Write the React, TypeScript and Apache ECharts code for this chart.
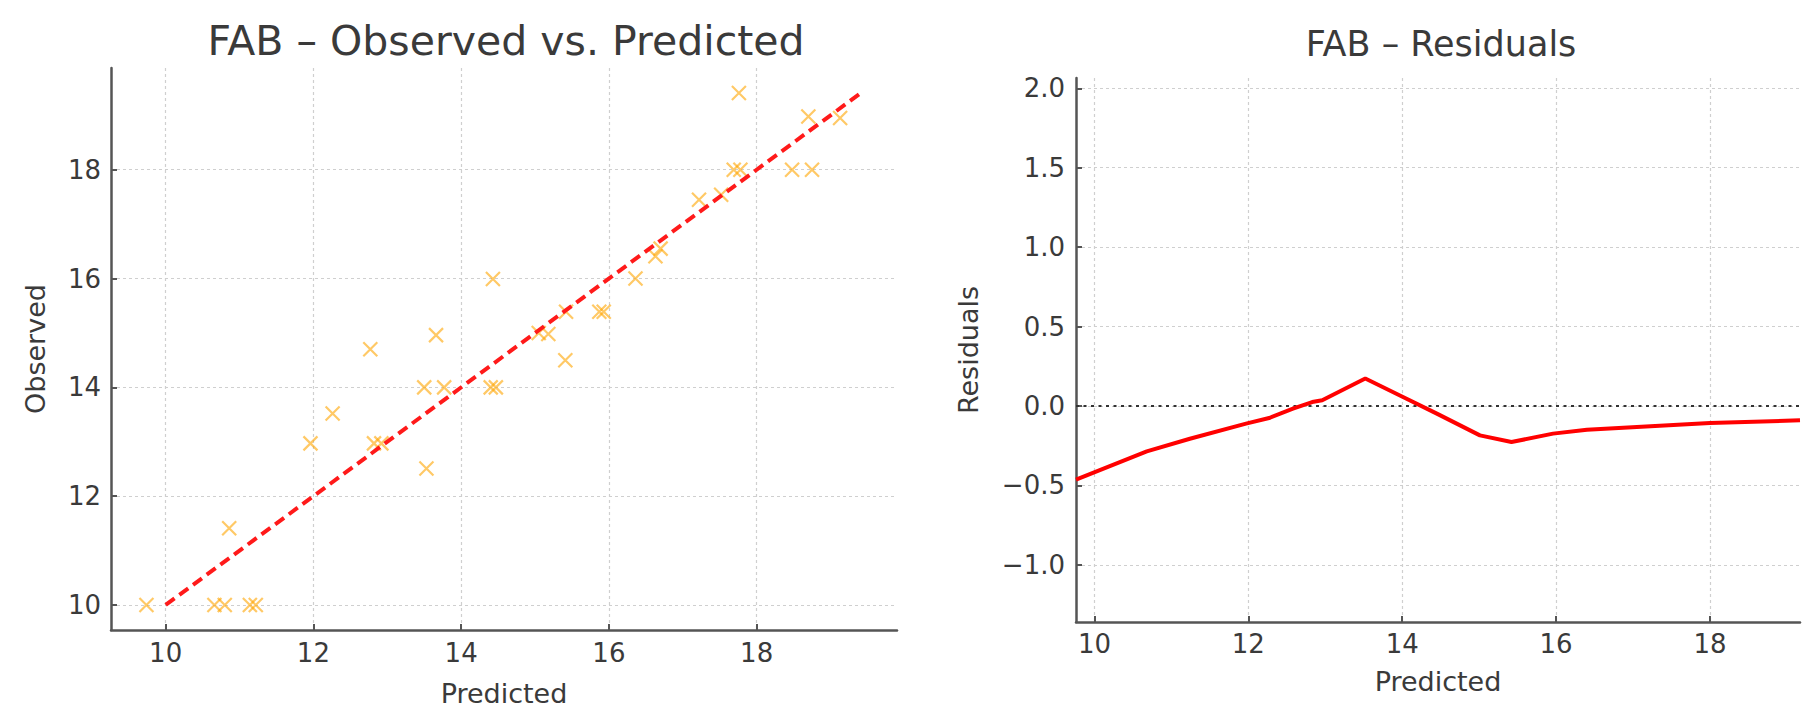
import React, { useEffect, useRef } from "react";
import * as echarts from "echarts";

// Observed vs. predicted (scatter)
const predicted = [
  9.74, 10.66, 10.8, 11.14, 11.22, 10.86, 11.96, 12.26, 12.82, 12.92, 13.53, 13.5,
  13.77, 14.4, 14.47, 12.77, 13.66, 14.43, 15.41, 15.05, 15.18, 15.42, 15.87, 15.93,
  16.36, 16.63, 16.7, 17.22, 17.52, 17.69, 17.78, 17.76, 18.48, 18.75, 18.7, 19.13,
];
const observed = [
  10, 10, 10, 10, 10, 11.41, 12.97, 13.52, 12.97, 12.97, 12.51, 14, 14, 14, 14, 14.7,
  14.96, 15.99, 14.5, 15.0, 14.98, 15.39, 15.39, 15.39, 16, 16.41, 16.55, 17.45, 17.54,
  18, 18, 19.41, 18, 18, 18.98, 18.95,
];
// identity reference line (min / max observed)
const refLine = [10, 19.41];

// Residual trend
const residPred = [
  9.76, 10.68, 11.24, 11.97, 12.27, 12.58, 12.83, 12.96, 13.52, 14.01, 14.45, 15.01,
  15.42, 15.96, 16.4, 17.05, 18.0, 19.17,
];
const residVal = [
  -0.464, -0.286, -0.206, -0.111, -0.076, -0.017, 0.025, 0.036, 0.173, 0.057, -0.048,
  -0.185, -0.227, -0.174, -0.149, -0.132, -0.107, -0.09,
];

const predTicks = [10, 12, 14, 16, 18];
const obsTicks = [10, 12, 14, 16, 18];
const residTicks = [-1, -0.5, 0, 0.5, 1, 1.5, 2];

const FONT = "DejaVu Sans";
const TEXT = "#3a3a3a";
const AXIS = "#555555";

function axisCommon(ticks: number[], fmt?: (v: number) => string) {
  return {
    type: "value" as const,
    axisLine: { show: true, onZero: false, lineStyle: { color: AXIS, width: 2.5 } },
    axisTick: {
      show: true,
      inside: true,
      length: 6,
      customValues: ticks,
      lineStyle: { color: AXIS, width: 2 },
    },
    axisLabel: {
      customValues: ticks,
      fontSize: 26,
      color: TEXT,
      fontFamily: FONT,
      formatter: fmt,
    },
    splitLine: {
      show: true,
      lineStyle: { color: "#cfcfcf", width: 1.2, type: [3, 3] },
    },
    nameLocation: "middle" as const,
    nameTextStyle: { fontSize: 27, color: TEXT, fontFamily: FONT },
  };
}

export default function App() {
  const ref = useRef<HTMLDivElement>(null);
  useEffect(() => {
    if (!ref.current) return;
    const chart = echarts.init(ref.current, undefined, { renderer: "svg" });
    const fmtResid = (v: number) => v.toFixed(1).replace("-", "\u2212");
    const scatterData = predicted.map((p, i) => [p, observed[i]]);
    const refData = refLine.map((v) => [v, v]);
    const residData = residPred.map((p, i) => [p, residVal[i]]);
    chart.setOption({
      animation: false,
      backgroundColor: "#ffffff",
      textStyle: { fontFamily: FONT },
      title: [
        {
          text: "FAB \u2013 Observed vs. Predicted",
          left: 501,
          top: 15,
          textAlign: "center",
          textStyle: { fontSize: 41, fontWeight: "normal", color: TEXT, fontFamily: FONT },
        },
        {
          text: "FAB \u2013 Residuals",
          left: 1436,
          top: 21,
          textAlign: "center",
          textStyle: { fontSize: 35, fontWeight: "normal", color: TEXT, fontFamily: FONT },
        },
      ],
      grid: [
        { left: 111, top: 68, width: 786, height: 562 },
        { left: 1076, top: 78, width: 724, height: 544 },
      ],
      xAxis: [
        {
          ...axisCommon(predTicks),
          gridIndex: 0,
          min: 9.26,
          max: 19.9,
          name: "Predicted",
          nameGap: 50,
          axisLabel: { ...axisCommon(predTicks).axisLabel, margin: 10 },
        },
        {
          ...axisCommon(predTicks),
          gridIndex: 1,
          min: 9.76,
          max: 19.17,
          name: "Predicted",
          nameGap: 46,
          axisLabel: { ...axisCommon(predTicks).axisLabel, margin: 9 },
        },
      ],
      yAxis: [
        {
          ...axisCommon(obsTicks),
          gridIndex: 0,
          min: 9.54,
          max: 19.87,
          name: "Observed",
          nameGap: 62,
          axisLabel: { ...axisCommon(obsTicks).axisLabel, margin: 10 },
        },
        {
          ...axisCommon(residTicks, fmtResid),
          gridIndex: 1,
          min: -1.36,
          max: 2.065,
          name: "Residuals",
          nameGap: 94,
          axisLabel: { ...axisCommon(residTicks, fmtResid).axisLabel, margin: 11 },
        },
      ],
      series: [
        {
          type: "scatter",
          xAxisIndex: 0,
          yAxisIndex: 0,
          data: scatterData,
          symbol: "path://M0,0L10,10M10,0L0,10",
          symbolSize: 14,
          itemStyle: {
            color: "rgba(255,165,0,0)",
            borderColor: "#FFA500",
            borderWidth: 2.2,
            opacity: 0.6,
          },
          z: 3,
        },
        {
          type: "line",
          xAxisIndex: 0,
          yAxisIndex: 0,
          data: refData,
          showSymbol: false,
          symbol: "none",
          lineStyle: { color: "#FF1A1A", width: 4, type: [11, 6] },
          z: 4,
        },
        {
          type: "line",
          xAxisIndex: 1,
          yAxisIndex: 1,
          data: residData,
          showSymbol: false,
          symbol: "none",
          lineStyle: { color: "#FF0000", width: 4 },
          z: 4,
          markLine: {
            silent: true,
            symbol: ["none", "none"],
            label: { show: false },
            lineStyle: { color: "#333333", width: 2.2, type: [3, 4.5] },
            data: [{ yAxis: 0 }],
            z: 3,
          },
        },
      ],
    });
    return () => chart.dispose();
  }, []);
  return (
    <div
      ref={ref}
      style={{ position: "fixed", left: 0, top: 0, width: 1819, height: 722 }}
    />
  );
}
